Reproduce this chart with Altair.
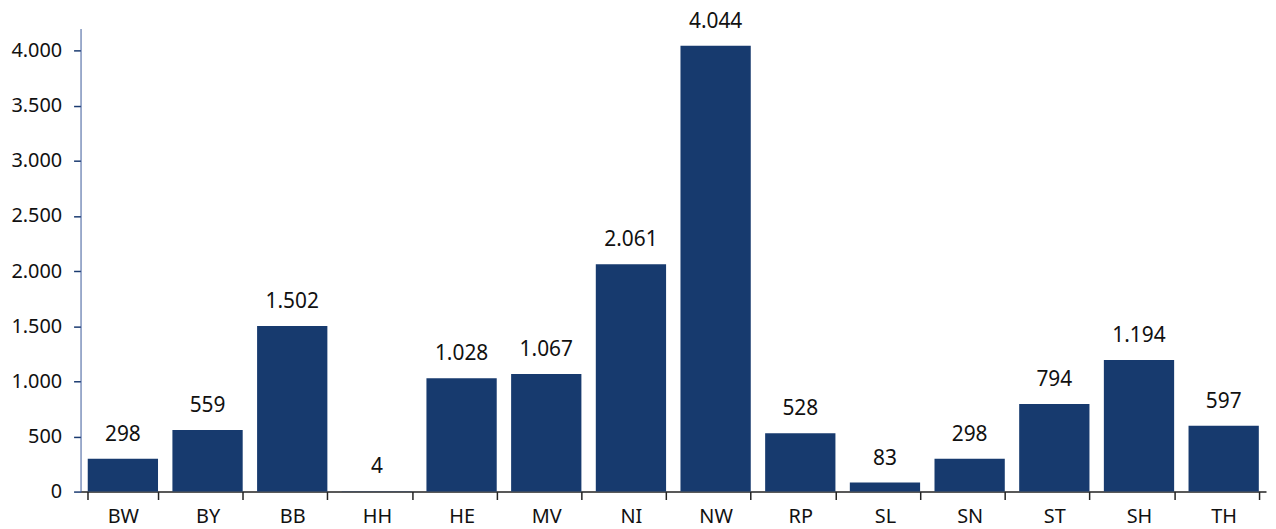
import altair as alt
import pandas as pd

states = ["BW", "BY", "BB", "HH", "HE", "MV", "NI", "NW", "RP", "SL", "SN", "ST", "SH", "TH"]
values = [298, 559, 1502, 4, 1028, 1067, 2061, 4044, 528, 83, 298, 794, 1194, 597]

df = pd.DataFrame({"state": states, "value": values})

base = alt.Chart(df).transform_calculate(
    label="replace(format(datum.value, ','), ',', '.')"
)

x = alt.X("state:N", sort=states, title=None,
          scale=alt.Scale(paddingInner=0.17, paddingOuter=0.085),
          axis=alt.Axis(labelAngle=0, labelFontSize=20, labelColor="#111111",
                        labelFont="Noto Sans", domainColor="#222222",
                        tickColor="#222222", tickSize=8, tickBand="extent",
                        labelPadding=7, domainWidth=1.5, tickWidth=1.5))
y = alt.Y("value:Q", title=None,
          scale=alt.Scale(domain=[0, 4200], nice=False),
          axis=alt.Axis(values=[0, 500, 1000, 1500, 2000, 2500, 3000, 3500, 4000],
                        labelExpr="replace(format(datum.value, ','), ',', '.')",
                        labelFontSize=20, labelColor="#111111", labelFont="Noto Sans",
                        grid=False, domainColor="#3a5a9a", tickColor="#1a3a70",
                        tickSize=7, labelPadding=12, tickWidth=1.5))

bars = base.mark_bar(color="#173a6e").encode(x=x, y=y)
text = base.mark_text(baseline="alphabetic", dy=-18, fontSize=21, font="Noto Sans",
                      color="#111111").encode(x=alt.X("state:N", sort=states),
                                              y="value:Q", text="label:N")

chart = (bars + text).properties(
    width=1193, height=466,
    autosize=alt.AutoSizeParams(type="none"),
    padding={"left": 73, "top": 19, "right": 2, "bottom": 36},
).configure_view(stroke=None)

chart.save("out.html", embed_options={"renderer": "svg", "actions": False})
